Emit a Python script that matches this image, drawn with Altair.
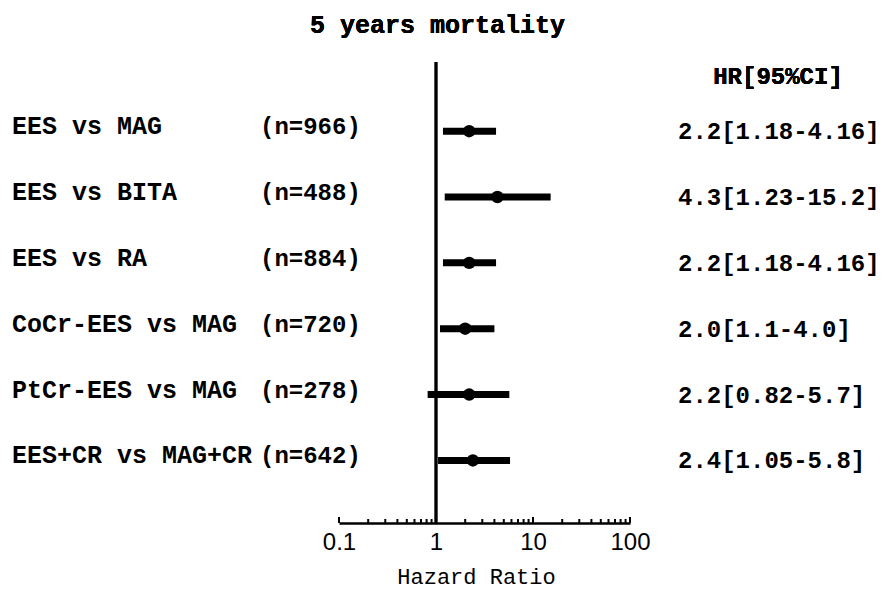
import altair as alt
import pandas as pd

# ---- data ----
comparisons = ["EES vs MAG", "EES vs BITA", "EES vs RA", "CoCr-EES vs MAG",
               "PtCr-EES vs MAG", "EES+CR vs MAG+CR"]
n_labels = ["(n=966)", "(n=488)", "(n=884)", "(n=720)", "(n=278)", "(n=642)"]
hr_values = [2.2, 4.3, 2.2, 2.0, 2.2, 2.4]
ci_low = [1.18, 1.23, 1.18, 1.1, 0.82, 1.05]
ci_high = [4.16, 15.2, 4.16, 4.0, 5.7, 5.8]
hr_labels = ["2.2[1.18-4.16]", "4.3[1.23-15.2]", "2.2[1.18-4.16]",
             "2.0[1.1-4.0]", "2.2[0.82-5.7]", "2.4[1.05-5.8]"]
major_ticks = [0.1, 1, 10, 100]
minor_ticks = [m * d for d in (0.1, 1, 10) for m in range(2, 10)]

rows = list(range(1, len(comparisons) + 1))
df = pd.DataFrame({"row": rows, "comparison": comparisons, "n": n_labels,
                   "hr": hr_values, "lo": ci_low, "hi": ci_high, "hrtext": hr_labels})
major_df = pd.DataFrame({"t": major_ticks})
minor_df = pd.DataFrame({"t": minor_ticks})

W, H = 291, 461
MONO = "Liberation Mono"

xscale = alt.Scale(type="log", domain=[0.1, 100], nice=False)
yscale = alt.Scale(domain=[-0.05, 6.95], reverse=True, nice=False, zero=False)
Y = alt.Y("row:Q", scale=yscale, axis=None)

base = alt.Chart(df)

ci = base.mark_rule(color="black", strokeWidth=7, strokeCap="butt").encode(
    x=alt.X("lo:Q", scale=xscale,
            axis=alt.Axis(values=major_ticks, format="~g", ticks=False, tickSize=0,
                          grid=False, domainColor="black", domainWidth=2.5,
                          labelFont="Liberation Sans", labelFontSize=24,
                          labelColor="black", labelPadding=7,
                          labelFlush=False, labelOverlap=False,
                          title="Hazard Ratio", titleFont=MONO, titleFontSize=22,
                          titleFontWeight="normal", titleColor="black",
                          titleX=137, titleY=60, titleBaseline="alphabetic")),
    x2="hi:Q",
    y=Y,
)
pts = base.mark_circle(color="black", opacity=1, size=155).encode(
    x=alt.X("hr:Q", scale=xscale), y=Y)

vline = alt.Chart(major_df).mark_rule(color="black", strokeWidth=2.5).encode(
    x=alt.datum(1, scale=xscale))

maj = alt.Chart(major_df).mark_rule(color="black", strokeWidth=2).encode(
    x=alt.X("t:Q", scale=xscale), y=alt.value(H), y2=alt.value(H - 6))
mnr = alt.Chart(minor_df).mark_rule(color="black", strokeWidth=2).encode(
    x=alt.X("t:Q", scale=xscale), y=alt.value(H), y2=alt.value(H - 4))

lab = base.mark_text(font=MONO, fontWeight="bold", fontSize=25, align="left",
                     baseline="alphabetic", dy=3, color="black").encode(
    x=alt.value(12 - 339), y=Y, text="comparison:N")
nlab = base.mark_text(font=MONO, fontWeight="bold", fontSize=24, align="left",
                      baseline="alphabetic", dy=3, color="black").encode(
    x=alt.value(260 - 339), y=Y, text="n:N")
hrlab = base.mark_text(font=MONO, fontWeight="bold", fontSize=24, align="left",
                       baseline="alphabetic", dy=8, color="black").encode(
    x=alt.value(678 - 339), y=Y, text="hrtext:N")

header = alt.Chart(major_df).mark_text(font=MONO, fontWeight="bold", fontSize=24,
                                       align="center", baseline="alphabetic",
                                       color="black", text="HR[95%CI]").encode(
    x=alt.value(778 - 339), y=alt.value(84 - 62))
title = alt.Chart(major_df).mark_text(font=MONO, fontWeight="bold", fontSize=25,
                                      align="center", baseline="alphabetic",
                                      color="black", text="5 years mortality").encode(
    x=alt.value(437.5 - 339), y=alt.value(33 - 62))

chart = alt.layer(ci, pts, vline, maj, mnr, lab, nlab, hrlab, header, title).properties(
    width=W, height=H,
    autosize=alt.AutoSizeParams(type="none"),
    padding={"left": 331, "top": 54, "right": 250, "bottom": 67},
    background="white",
).configure_view(stroke=None)

chart.save("out.html", embed_options={"renderer": "svg", "actions": False})
